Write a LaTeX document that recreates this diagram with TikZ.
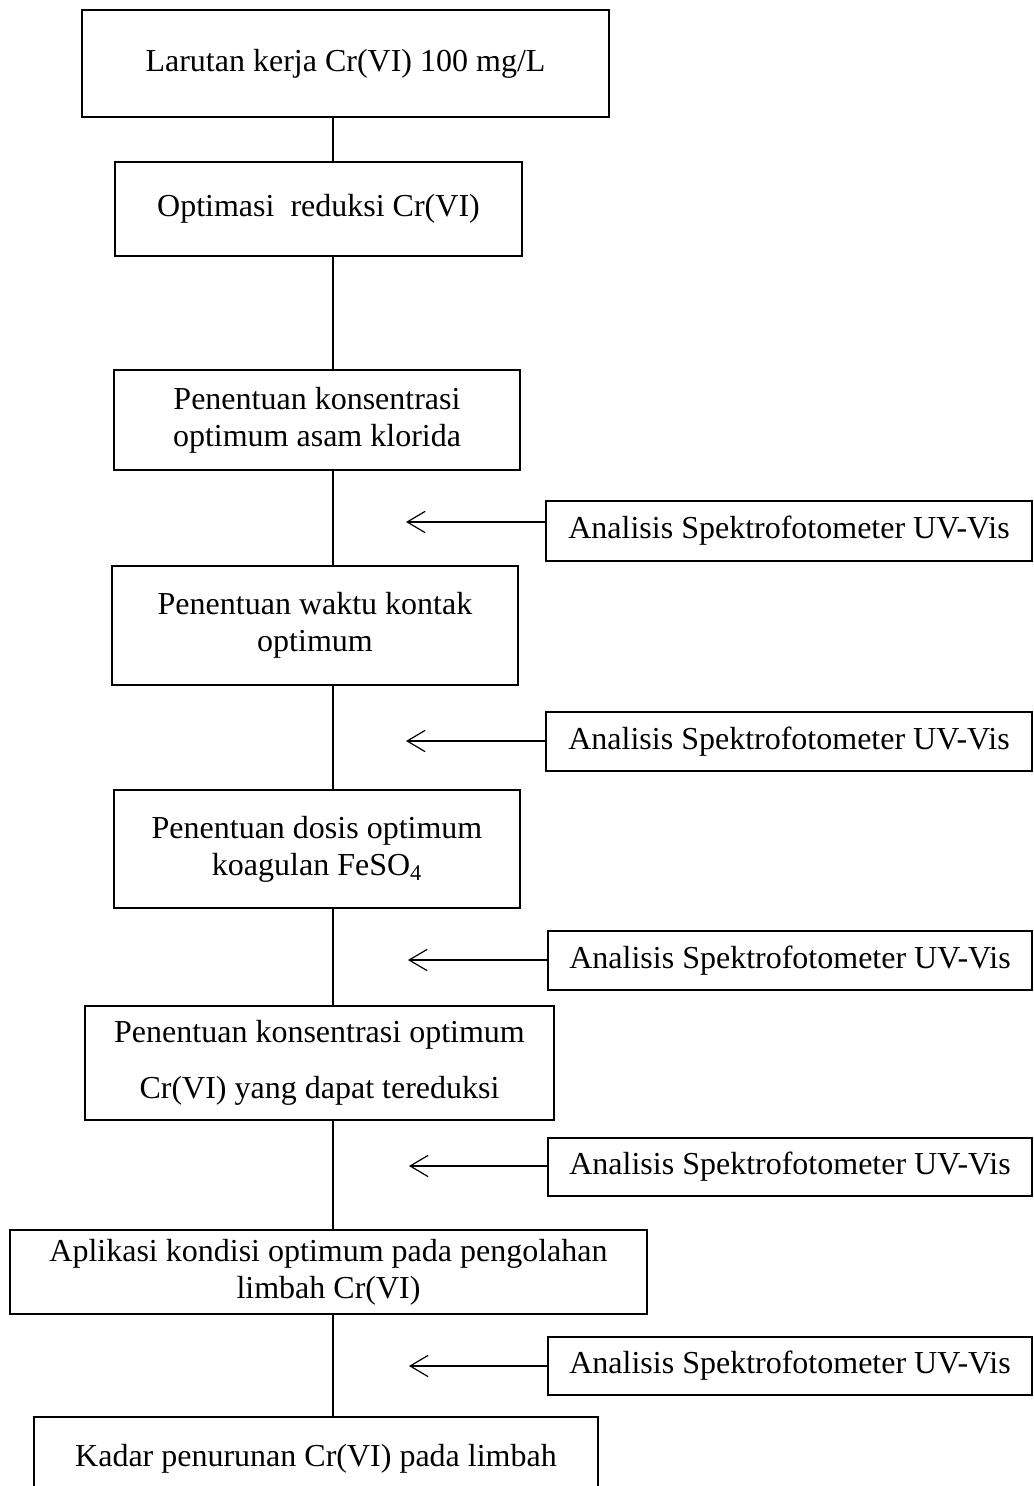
\documentclass[tikz,border=0pt]{standalone}
\usepackage{fontspec}
\setmainfont{Liberation Serif}
\usetikzlibrary{arrows.meta}
\tikzset{
  wh/.style 2 args={minimum width=#1*0.75pt, minimum height=#2*0.75pt},
  flowbox/.style={draw, line width=0.9pt, inner sep=0pt, align=center,
    font=\fontsize{24}{27.75}\selectfont},
  sidebox/.style={flowbox},
  link/.style={line width=0.9pt},
  feed/.style={line width=0.9pt, -{Straight Barb[length=13.5pt, width=16pt, line width=0.9pt]}}
}
\begin{document}
\begin{tikzpicture}[x=0.75pt, y=-0.75pt]
\useasboundingbox (0,0) rectangle (1033,1486);
\clip (0,0) rectangle (1033,1486);
\fill[white] (0,0) rectangle (1033,1486);

\node[flowbox, wh={527}{107}] (b1) at (345.5,63.5) {Larutan kerja Cr(VI) 100 mg/L};
\node[flowbox, wh={407}{94}] (b2) at (318.5,209) {Optimasi~ reduksi Cr(VI)};
\node[flowbox, wh={406}{100}] (b3) at (317,420) {Penentuan konsentrasi\\optimum asam klorida};
\node[flowbox, wh={406}{119}] (b4) at (315,625.5) {Penentuan waktu kontak\\optimum};
\node[flowbox, wh={406}{118}] (b5) at (317,849) {Penentuan dosis optimum\\koagulan FeSO\textsubscript{4}};
\node[flowbox, wh={469}{114}] (b6) at (319.5,1063) {Penentuan konsentrasi optimum\\[14.25pt]Cr(VI) yang dapat tereduksi};
\node[flowbox, wh={637}{84}] (b7) at (328.5,1272) {Aplikasi kondisi optimum pada pengolahan\\limbah Cr(VI)};
\node[flowbox, wh={564}{83}] (b8) at (316,1458.5) {Kadar penurunan Cr(VI) pada limbah};

\node[sidebox, wh={486}{60}] (s1) at (789,531) {Analisis Spektrofotometer UV-Vis};
\node[sidebox, wh={486}{59}] (s2) at (789,741.5) {Analisis Spektrofotometer UV-Vis};
\node[sidebox, wh={484}{59}] (s3) at (790,960.5) {Analisis Spektrofotometer UV-Vis};
\node[sidebox, wh={484}{58}] (s4) at (790,1167) {Analisis Spektrofotometer UV-Vis};
\node[sidebox, wh={484}{58}] (s5) at (790,1366) {Analisis Spektrofotometer UV-Vis};

\coordinate (ax) at (333,0);
\draw[link] (b1.south -| ax) -- (b2.north -| ax);
\draw[link] (b2.south -| ax) -- (b3.north -| ax);
\draw[link] (b3.south -| ax) -- (b4.north -| ax);
\draw[link] (b4.south -| ax) -- (b5.north -| ax);
\draw[link] (b5.south -| ax) -- (b6.north -| ax);
\draw[link] (b6.south -| ax) -- (b7.north -| ax);
\draw[link] (b7.south -| ax) -- (b8.north -| ax);

\coordinate (t1) at (406,522);
\coordinate (t2) at (406,741);
\coordinate (t3) at (408,960);
\coordinate (t4) at (409,1166);
\coordinate (t5) at (409,1366);
\draw[feed] (s1.west |- t1) -- (t1);
\draw[feed] (s2.west |- t2) -- (t2);
\draw[feed] (s3.west |- t3) -- (t3);
\draw[feed] (s4.west |- t4) -- (t4);
\draw[feed] (s5.west |- t5) -- (t5);
\end{tikzpicture}
\end{document}
